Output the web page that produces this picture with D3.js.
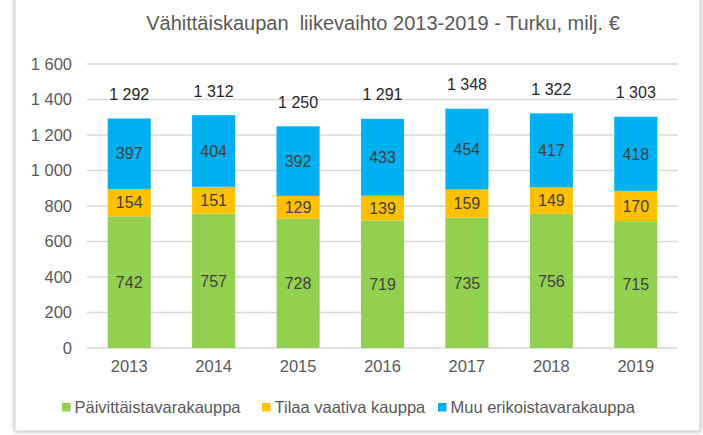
<!DOCTYPE html>
<html>
<head>
<meta charset="utf-8">
<script src="https://cdn.jsdelivr.net/npm/d3@7"></script>
<style>
  body { margin: 0; background: #fff; }
  svg { font-family: "Liberation Sans", Arial, sans-serif; }
</style>
</head>
<body>
<svg id="chart" width="703" height="435"></svg>
<script>
var years = ["2013", "2014", "2015", "2016", "2017", "2018", "2019"];
var paivittais = [742, 757, 728, 719, 735, 756, 715];
var tilaa = [154, 151, 129, 139, 159, 149, 170];
var muu = [397, 404, 392, 433, 454, 417, 418];
var totals = [1292, 1312, 1250, 1291, 1348, 1322, 1303];
var seriesNames = ["Päivittäistavarakauppa", "Tilaa vaativa kauppa", "Muu erikoistavarakauppa"];
var colors = ["#92d050", "#ffc000", "#00b0f0"];
var yTicks = [0, 200, 400, 600, 800, 1000, 1200, 1400, 1600];

var svg = d3.select("#chart");

// frame with soft shadow
var defs = svg.append("defs");
var f = defs.append("filter").attr("id", "shadow").attr("x", "-5%").attr("y", "-5%").attr("width", "110%").attr("height", "110%");
f.append("feDropShadow").attr("dx", 0).attr("dy", 0).attr("stdDeviation", 2).attr("flood-color", "#000").attr("flood-opacity", 0.35);
svg.append("rect")
  .attr("x", 15).attr("y", -5).attr("width", 685).attr("height", 436)
  .attr("fill", "#fff").attr("stroke", "#d0d0d0").attr("filter", "url(#shadow)");

var plotLeft = 87, plotRight = 678, plotTop = 64, plotBottom = 348;

var x = d3.scaleBand().domain(years).range([plotLeft, plotRight]).paddingInner(0.49).paddingOuter(0.245);
var y = d3.scaleLinear().domain([0, 1600]).range([plotBottom, plotTop]);

var fmt = function(d){ return d3.format(",")(d).replace(/,/g, " "); };

//gridlines
svg.append("g").selectAll("line").data(yTicks).enter().append("line")
  .attr("x1", plotLeft).attr("x2", plotRight)
  .attr("y1", function(d){ return y(d); }).attr("y2", function(d){ return y(d); })
  .style("stroke", "#d9d9d9").style("stroke-width", 1.5);

//y axis labels
var yAxis = svg.append("g")
  .attr("transform", "translate(" + plotLeft + ",0)")
  .call(d3.axisLeft(y).tickValues(yTicks).tickSize(0).tickPadding(15).tickFormat(fmt));
yAxis.select(".domain").remove();
yAxis.selectAll("text").style("font-size", "16.5px").style("fill", "#595959").style("font-family", "Liberation Sans, Arial, sans-serif");

//x axis labels
var xAxis = svg.append("g")
  .attr("transform", "translate(0," + plotBottom + ")")
  .call(d3.axisBottom(x).tickSize(0).tickPadding(12));
xAxis.select(".domain").remove();
xAxis.selectAll("text").style("font-size", "16.5px").style("fill", "#595959").style("font-family", "Liberation Sans, Arial, sans-serif");

//stack
var rows = years.map(function(yr, i){
  return {year: yr, s0: paivittais[i], s1: tilaa[i], s2: muu[i]};
});
var stacked = d3.stack().keys(["s0", "s1", "s2"])(rows);

var layers = svg.append("g").selectAll("g").data(stacked).enter().append("g")
  .attr("fill", function(d, i){ return colors[i]; });

layers.selectAll("rect").data(function(d){ return d; }).enter().append("rect")
  .attr("x", function(d){ return x(d.data.year); })
  .attr("width", x.bandwidth())
  .attr("y", function(d){ return y(d[1]); })
  .attr("height", function(d){ return y(d[0]) - y(d[1]); });

layers.selectAll("text").data(function(d){ return d; }).enter().append("text")
  .attr("x", function(d){ return x(d.data.year) + x.bandwidth() / 2; })
  .attr("y", function(d){ return (y(d[0]) + y(d[1])) / 2; })
  .attr("dy", "0.36em")
  .attr("text-anchor", "middle")
  .style("font-size", "16px")
  .style("fill", "#404040")
  .text(function(d){ return d[1] - d[0]; });

//totals
svg.append("g").selectAll("text").data(totals).enter().append("text")
  .attr("x", function(d, i){ return x(years[i]) + x.bandwidth() / 2; })
  .attr("y", function(d){ return y(d) - 18.5; })
  .attr("text-anchor", "middle")
  .style("font-size", "16px")
  .style("fill", "#262626")
  .text(fmt);

//title
svg.append("text")
  .attr("x", 383).attr("y", 30)
  .attr("text-anchor", "middle")
  .style("font-size", "20px")
  .style("fill", "#595959")
  .style("white-space", "pre")
  .attr("xml:space", "preserve")
  .text("Vähittäiskaupan  liikevaihto 2013-2019 - Turku, milj. €");

//legend
var legendX = [62, 262, 438];
var legend = svg.append("g").selectAll("g").data(seriesNames).enter().append("g")
  .attr("transform", function(d, i){ return "translate(" + legendX[i] + ",407.5)"; });
legend.append("rect").attr("x", 0).attr("y", -4.5).attr("width", 8.5).attr("height", 8.5)
  .attr("fill", function(d, i){ return colors[i]; });
legend.append("text").attr("x", 12.5).attr("dy", "0.36em")
  .style("font-size", "16.5px").style("fill", "#595959")
  .text(function(d){ return d; });
</script>
</body>
</html>
